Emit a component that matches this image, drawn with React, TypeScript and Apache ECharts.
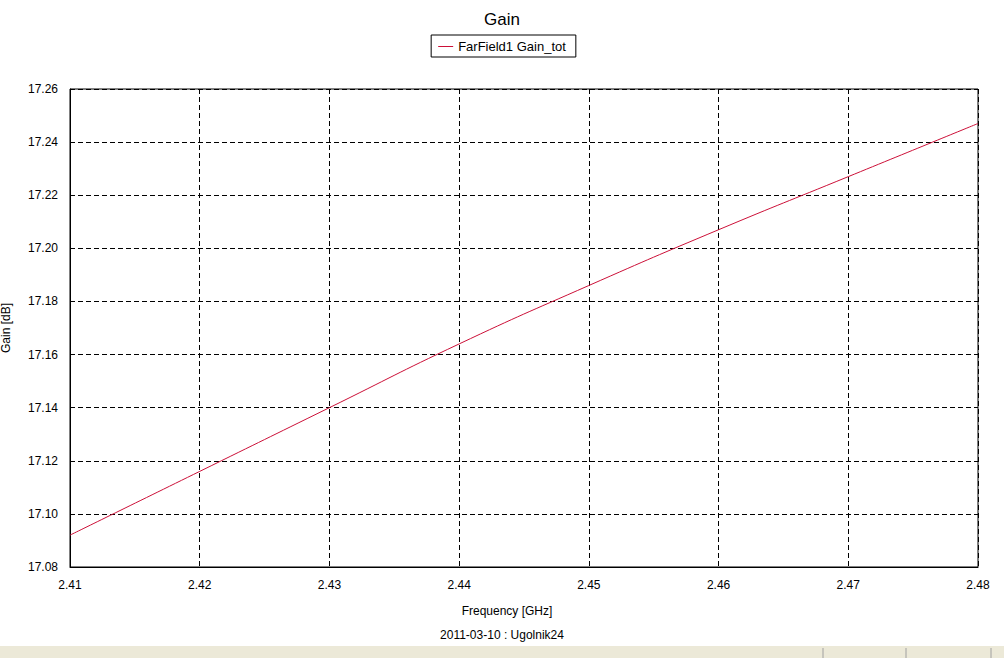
import React, { useEffect, useRef } from "react";
import * as echarts from "echarts";

const frequencies = [2.41, 2.42, 2.43, 2.44, 2.45, 2.46, 2.47, 2.48];
const gainTot = [17.092, 17.116, 17.14, 17.164, 17.186, 17.207, 17.227, 17.247];
const seriesName = "FarField1 Gain_tot";
const titleText = "Gain";
const xName = "Frequency [GHz]";
const yName = "Gain [dB]";
const footerText = "2011-03-10 : Ugolnik24";
const statusSeparators = [823, 906, 991];

const FONT = "'Liberation Sans', Arial, sans-serif";
const LINE_COLOR = "#cc1038";

export default function App() {
  const ref = useRef<HTMLDivElement>(null);
  useEffect(() => {
    if (!ref.current) return;
    const chart = echarts.init(ref.current, undefined, { renderer: "svg" });
    chart.setOption({
      animation: false,
      backgroundColor: "#ffffff",
      textStyle: { fontFamily: FONT },
      title: {
        text: titleText,
        left: "center",
        top: 6,
        textStyle: { fontFamily: FONT, fontSize: 17, fontWeight: "normal", color: "#000" },
      },
      legend: {
        top: 35,
        left: "center",
        data: [seriesName],
        icon: "rect",
        itemWidth: 15,
        itemHeight: 1,
        itemGap: 5,
        padding: [5, 10, 4, 7],
        borderColor: "#000",
        borderWidth: 1,
        borderRadius: 0,
        textStyle: { fontFamily: FONT, fontSize: 13, color: "#000" },
      },
      grid: {
        left: 70,
        right: 26,
        top: 89,
        bottom: 91,
        show: true,
        borderColor: "#000",
        borderWidth: 1,
        backgroundColor: "transparent",
        outerBoundsMode: "none",
        containLabel: false,
      },
      xAxis: {
        type: "value",
        min: 2.41,
        max: 2.48,
        interval: 0.01,
        axisLine: { show: true, lineStyle: { color: "#000", width: 1 } },
        axisTick: { show: false },
        axisLabel: {
          color: "#000",
          fontFamily: FONT,
          fontSize: 12,
          margin: 12,
          formatter: (v: number) => v.toFixed(2),
        },
        splitLine: { show: true, lineStyle: { color: "#000", type: [5, 3], width: 1 } },
      },
      yAxis: {
        type: "value",
        min: 17.08,
        max: 17.26,
        interval: 0.02,
        name: yName,
        nameLocation: "middle",
        nameGap: 58,
        nameRotate: 90,
        nameTextStyle: { fontFamily: FONT, fontSize: 12, color: "#000" },
        axisLine: { show: true, lineStyle: { color: "#000", width: 1 } },
        axisTick: { show: false },
        axisLabel: {
          color: "#000",
          fontFamily: FONT,
          fontSize: 12,
          margin: 12,
          padding: [3, 0, 0, 0],
          formatter: (v: number) => v.toFixed(2),
        },
        splitLine: { show: true, lineStyle: { color: "#000", type: [5, 3], width: 1 } },
      },
      graphic: [
        {
          type: "text",
          x: 507,
          y: 611,
          style: {
            text: xName,
            fontFamily: FONT,
            fontSize: 12,
            fill: "#000",
            align: "center",
            verticalAlign: "middle",
          },
        },
        {
          type: "text",
          x: 502,
          y: 635,
          style: {
            text: footerText,
            fontFamily: FONT,
            fontSize: 12,
            fill: "#000",
            align: "center",
            verticalAlign: "middle",
          },
        },
        {
          type: "rect",
          shape: { x: 0, y: 646, width: 1004, height: 12 },
          style: { fill: "#ECE9D8" },
          silent: true,
        },
        ...statusSeparators.map((x) => ({
          type: "line",
          shape: { x1: x, y1: 648, x2: x, y2: 658 },
          style: { stroke: "#A0A0A0", lineWidth: 1 },
          silent: true,
        })),
      ],
      series: [
        {
          name: seriesName,
          type: "line",
          data: frequencies.map((f, i) => [f, gainTot[i]]),
          smooth: true,
          showSymbol: false,
          symbol: "none",
          lineStyle: { color: LINE_COLOR, width: 1 },
          itemStyle: { color: LINE_COLOR },
        },
      ],
    });
    return () => chart.dispose();
  }, []);
  return (
    <div
      ref={ref}
      style={{ position: "fixed", left: 0, top: 0, width: 1004, height: 658 }}
    />
  );
}
